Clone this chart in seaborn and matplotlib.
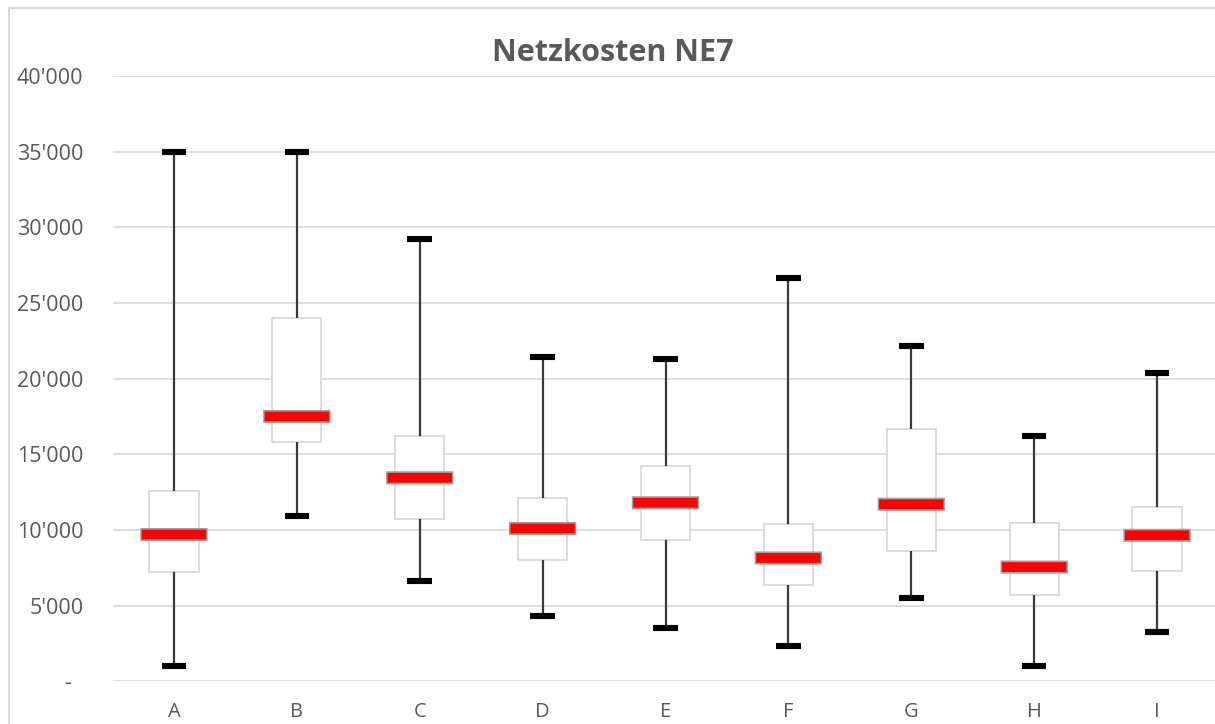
import numpy as np
import pandas as pd
import matplotlib
matplotlib.use("Agg")
import matplotlib.pyplot as plt
from matplotlib.colors import same_color
from matplotlib.ticker import FuncFormatter, MultipleLocator
import seaborn as sns

# values (min, Q1, median, Q3, max)
categories = ["A", "B", "C", "D", "E", "F", "G", "H", "I"]
mins = [1000, 10900, 6650, 4300, 3500, 2300, 5500, 1000, 3250]
q1s = [7200, 15800, 10700, 8000, 9350, 6350, 8600, 5700, 7300]
medians = [9700, 17500, 13450, 10100, 11800, 8150, 11700, 7550, 9650]
q3s = [12600, 24000, 16200, 12100, 14200, 10400, 16650, 10450, 11500]
maxs = [35000, 35000, 29200, 21450, 21300, 26650, 22150, 16200, 20400]

# 5 points per category -> quartiles land exactly on the values above
rows = []
for cat, lo, a, m, b, hi in zip(categories, mins, q1s, medians, q3s, maxs):
    for v in (lo, a, m, b, hi):
        rows.append({"cat": cat, "value": v})
data = pd.DataFrame(rows)

sns.set_style("white")
plt.rcParams["font.family"] = ["Open Sans", "DejaVu Sans"]

grey_txt = "#595959"
grid_col = "#d9d9d9"

fig = plt.figure(figsize=(12.15, 7.24), dpi=100)
ax = fig.add_axes([112.5 / 1215, 42.7 / 724, 1106 / 1215, 605.3 / 724])

sns.boxplot(data=data, x="cat", y="value", order=categories, whis=(0, 100),
            width=0.4, color="white", linecolor=grid_col, linewidth=1.1,
            boxprops=dict(facecolor="white", edgecolor=grid_col, linewidth=1.3),
            whiskerprops=dict(color="#3a3a3a", linewidth=1.6),
            capprops=dict(color="black", linewidth=4.4, solid_capstyle="butt"),
            medianprops=dict(color="#ff0000", linewidth=7.0, solid_capstyle="butt"),
            showfliers=False, ax=ax)

# median bars: wider than the boxes, with a grey outline underneath
med_lines = [ln for ln in ax.lines if same_color(ln.get_color(), "#ff0000")]
for ln in ax.lines:
    if same_color(ln.get_color(), "black"):
        ln.set_zorder(4)
for ln in med_lines:
    xd = np.asarray(ln.get_xdata(), dtype=float)
    yd = np.asarray(ln.get_ydata(), dtype=float)
    c = xd.mean()
    ln.set_xdata([c - 0.262, c + 0.262])
    ln.set_zorder(6)
    ln.set_snap(False)
    ax.plot([c - 0.274, c + 0.274], yd, color="#a0a0a0", lw=9.4,
            solid_capstyle="butt", zorder=5, snap=False)

ax.set_ylim(0, 40000)
ax.set_xlim(-0.5, len(categories) - 0.5)
ax.yaxis.set_major_locator(MultipleLocator(5000))
ax.yaxis.set_major_formatter(FuncFormatter(
    lambda v, p: "-  " if v == 0 else f"{int(v):,}".replace(",", "'")))
ax.grid(axis="y", color=grid_col, linewidth=1.2)
ax.set_axisbelow(True)
for s in ax.spines.values():
    s.set_visible(False)
ax.tick_params(axis="y", length=0, pad=21, labelsize=15.5, labelcolor=grey_txt)
ax.tick_params(axis="x", length=0, pad=15, labelsize=14.5, labelcolor=grey_txt)
ax.set_xlabel("")
ax.set_ylabel("")

fig.text(613 / 1215, 1 - 53 / 724, "Netzkosten NE7", ha="center", va="center",
         fontsize=22, fontweight="bold", color=grey_txt)

# outer chart frame
frame = plt.Rectangle((9 / 1215, -0.05), 1.1, 1.05 - 8 / 724, transform=fig.transFigure,
                      fill=False, edgecolor=grid_col, linewidth=1.5)
fig.patches.append(frame)

fig.savefig("out.png", dpi=100)
